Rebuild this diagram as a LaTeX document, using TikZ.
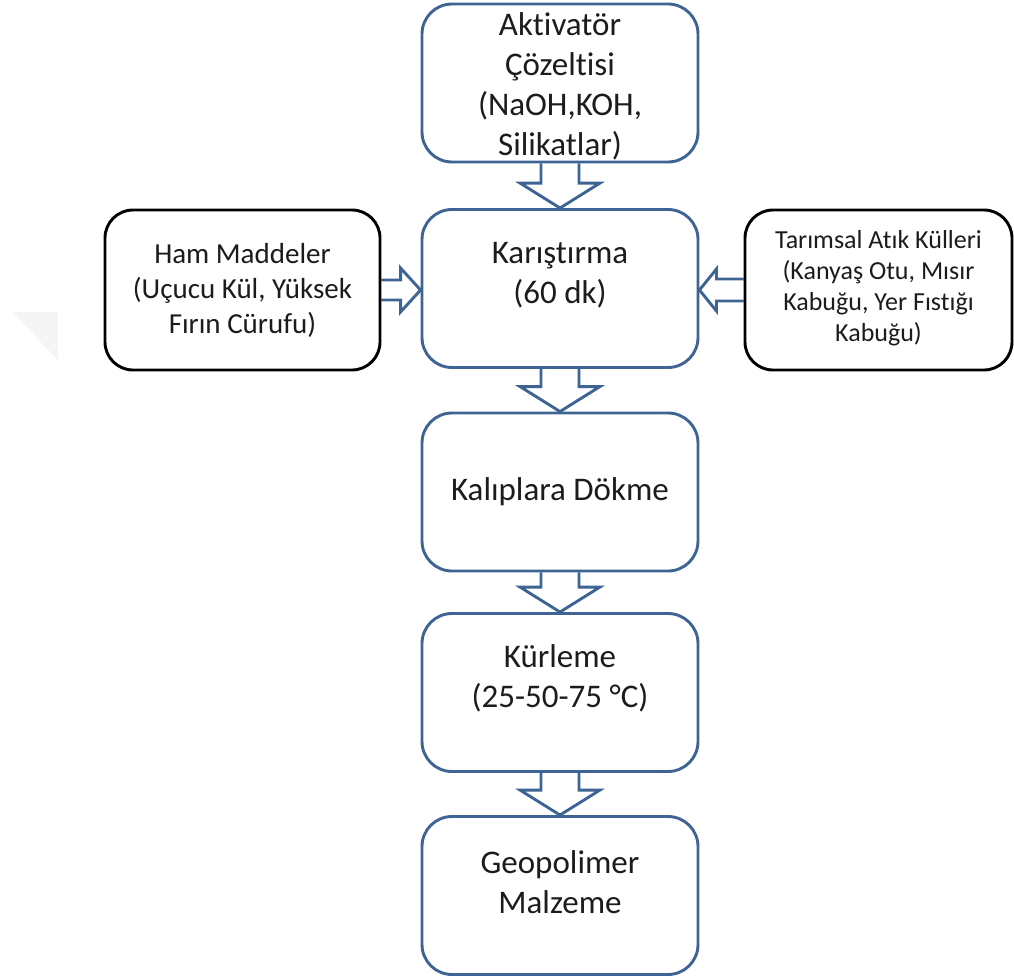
\documentclass[tikz,border=0pt]{standalone}
\usepackage{fontspec}
\setmainfont{Carlito}[Ligatures=NoCommon]
\usetikzlibrary{calc,backgrounds}
\definecolor{boxblue}{RGB}{62,100,148}
\definecolor{inkgray}{RGB}{28,28,28}
\tikzset{
  box/.style={draw=boxblue,line width=2.9pt,fill=white,rounded corners=30pt,
              minimum width=276pt,minimum height=158pt},
  sidebox/.style={draw=black,line width=2.9pt,fill=white,rounded corners=28pt,
              minimum height=160pt},
  big/.style={align=center,text=inkgray,font=\fontsize{33}{40}\selectfont},
  mid/.style={align=center,text=inkgray,font=\fontsize{29}{35}\selectfont},
  tiny/.style={align=center,text=inkgray,font=\fontsize{26}{31}\selectfont},
  hollow/.style={draw=boxblue,line width=2.9pt,fill=white,line join=miter},
}
% hollow block arrows between boxes
\newcommand\hollowdown[2]{%
  \draw[hollow] ($(#1.south)+(-19,0)$) -- ($(#2.north)+(-19,25)$)
    -- ($(#2.north)+(-40,25)$) -- (#2.north) -- ($(#2.north)+(40,25)$)
    -- ($(#2.north)+(19,25)$) -- ($(#1.south)+(19,0)$);}
\newcommand\hollowright[2]{%
  \draw[hollow] ($(#1.east)+(0,10)$) -- ($(#1.east -| #2.west)+(-20,10)$)
    -- ($(#1.east -| #2.west)+(-20,22)$) -- (#1.east -| #2.west)
    -- ($(#1.east -| #2.west)+(-20,-22)$) -- ($(#1.east -| #2.west)+(-20,-10)$)
    -- ($(#1.east)+(0,-10)$);}
\newcommand\hollowleft[2]{%
  \draw[hollow] ($(#1.west)+(0,11)$) -- ($(#1.west -| #2.east)+(17,11)$)
    -- ($(#1.west -| #2.east)+(17,21)$) -- (#1.west -| #2.east)
    -- ($(#1.west -| #2.east)+(17,-21)$) -- ($(#1.west -| #2.east)+(17,-11)$)
    -- ($(#1.west)+(0,-11)$);}
\begin{document}
\begin{tikzpicture}[x=1pt,y=1pt]
  \useasboundingbox (0,0) rectangle (1014,-979);
  \fill[gray!8] (12,-312) -- (58,-312) -- (58,-360) -- cycle;
%
  \node[box] (akt) at (560,-83)    {};
  \node[box] (kar) at (560,-288.5) {};
  \node[box] (kal) at (560,-492)   {};
  \node[box] (kur) at (560,-692.5) {};
  \node[box] (geo) at (560,-895.5) {};
  \node[sidebox,minimum width=275pt] (ham) at (242.5,-290) {};
  \node[sidebox,minimum width=267pt] (tar) at (878.5,-290) {};
%
  \node[big] (akt-t) at ([yshift=-3]akt) {Aktivatör\\Çözeltisi\\(NaOH,KOH,\\Silikatlar)};
  \node[big] (kar-t) at ([yshift=13]kar) {Karıştırma\\(60 dk)};
  \node[big] (kal-t) at (kal) {Kalıplara Dökme};
  \node[big] (kur-t) at ([yshift=14]kur) {Kürleme\\(25-50-75 °C)};
  \node[big] (geo-t) at ([yshift=13]geo) {Geopolimer\\Malzeme};
  \node[mid] (ham-t) at (ham) {Ham Maddeler\\(Uçucu Kül, Yüksek\\Fırın Cürufu)};
  \node[tiny] (tar-t) at ([yshift=2]tar) {Tarımsal Atık Külleri\\(Kanyaş Otu, Mısır\\Kabuğu, Yer Fıstığı\\Kabuğu)};
%
  \begin{pgfonlayer}{background}
    \hollowdown{akt}{kar}
    \hollowdown{kar}{kal}
    \hollowdown{kal}{kur}
    \hollowdown{kur}{geo}
    \hollowright{ham}{kar}
    \hollowleft{tar}{kar}
  \end{pgfonlayer}
\end{tikzpicture}
\end{document}
